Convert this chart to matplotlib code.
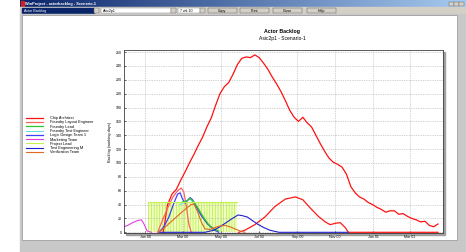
import numpy as np
import matplotlib
matplotlib.use('agg')
import matplotlib.pyplot as plt
from matplotlib.patches import Rectangle

plt.rcParams['font.family'] = ['Liberation Sans', 'DejaVu Sans']
plt.rcParams['hatch.linewidth'] = 0.5

# data: days after 2000-01-01 and backlog in working days
base = np.datetime64('2000-01-01')

chip_days = [29, 36, 43, 50, 57, 64, 71, 78, 85, 92, 99, 106, 113, 120, 127, 134,
             141, 148, 155, 162, 169, 176, 183, 190, 197, 204, 211, 218, 225, 232,
             239, 246, 253, 260, 267, 274, 281, 288, 295, 302, 309, 316, 323, 330,
             337, 344, 351, 358, 365, 372, 379, 386, 393, 400, 407, 414, 421, 428,
             435, 442, 449, 456, 463, 470]
chip_vals = [0, 40, 55, 62, 75, 87, 100, 112, 125, 137,
             152, 165, 183, 200, 210, 216, 228, 242, 251, 253,
             252, 256, 252, 244, 235, 224, 214, 203, 190, 176,
             166, 160, 166, 158, 152, 140, 128, 117, 107, 101,
             98, 94, 84, 66, 57, 51, 48, 43, 40, 36,
             33, 29, 31, 31, 26, 27, 23, 20, 18, 15,
             16, 10, 8, 12]

layout_days = [20, 28, 36, 44, 52, 58, 62, 66, 70, 74]
layout_vals = [0, 18, 35, 50, 60, 64, 58, 38, 12, 0]

lead_days = [60, 66, 72, 78, 86, 94, 102, 110, 118]
lead_vals = [44, 45, 49, 44, 33, 21, 11, 5, 2]

ftest_days = [56, 64, 72, 80, 90]
ftest_vals = [40, 44, 48, 40, 25]

logic_days = [22, 30, 38, 46, 52, 56, 60, 64, 68, 72, 76, 82, 90, 100, 110, 118]
logic_vals = [0, 8, 22, 42, 55, 57, 48, 42, 46, 50, 47, 37, 24, 12, 4, 0]

mkt_days = [-34, -28, -20, -12, -6, -2, 3, 10]
mkt_vals = [8, 10, 14, 17, 18, 12, 2, 0]

plead_days = [5, 148]
plead_level = 44

teng_days = [22, 96, 110, 120, 130, 140, 149, 156, 164, 172, 180, 190, 200, 215, 326]
teng_vals = [0, 0, 3, 8, 14, 20, 25, 24, 22, 17, 12, 7, 3, 0, 0]

verif_days = [22, 30, 40, 50, 60, 68, 74, 78, 84, 90, 96, 104, 112, 120, 128, 136, 144, 152, 160]
verif_vals = [0, 6, 14, 22, 30, 36, 40, 41, 30, 15, 5, 4, 7, 9, 10, 8, 5, 2, 0]

hump_days = [150, 160, 176, 192, 208, 225, 241, 253, 265, 278, 289, 297, 305, 313, 321, 326, 470]
hump_vals = [0, 3, 11, 22, 37, 48, 51, 47, 35, 23, 15, 11, 13, 14, 7, 0, 0]

tick_days = [0, 60, 121, 182, 244, 305, 366, 425]
tick_labels = ['Jan 00', 'Mar 00', 'May 00', 'Jul 00', 'Sep 00', 'Nov 00', 'Jan 01', 'Mar 01']


def d(days):
    return base + np.array(days).astype('timedelta64[D]')


fig = plt.figure(figsize=(4.66, 2.52), dpi=100)

# window chrome drawn in pixel coords
bg = fig.add_axes([0, 0, 1, 1])
bg.set_xlim(0, 466)
bg.set_ylim(252, 0)
bg.axis('off')
grad = np.linspace(0, 1, 200).reshape(1, -1)
bg.imshow(grad, extent=(20, 466, 7, 0), aspect='auto',
          cmap=matplotlib.colors.LinearSegmentedColormap.from_list('t', ['#0a246a', '#a6caf0']))
bg.add_patch(Rectangle((20.5, 1), 3, 5, color='#d02020'))
bg.text(25, 3.6, 'WinProject - actorbacklog - Scenario-1', color='white', fontsize=2.8,
        va='center', fontweight='bold')
for x in (449, 454, 459):
    bg.add_patch(Rectangle((x, 1.5), 4.5, 4, facecolor='#d4d0c8', edgecolor='#606060', lw=0.3))
bg.add_patch(Rectangle((20, 7), 446, 7, color='#d4d0c8'))
bg.add_patch(Rectangle((22, 7.8), 72, 5.4, color='#0a246a'))
bg.text(24, 10.6, 'Actor Backlog', color='white', fontsize=2.6, va='center')
bg.add_patch(Rectangle((101, 7.8), 70, 5.4, facecolor='white', edgecolor='#808080', lw=0.3))
bg.text(103, 10.6, 'Asic2p1', color='black', fontsize=2.6, va='center')
bg.add_patch(Rectangle((178, 7.8), 22, 5.4, facecolor='white', edgecolor='#808080', lw=0.3))
bg.text(180, 10.6, '7 wk 10', color='black', fontsize=2.6, va='center')
for x in (94, 171, 200):
    bg.add_patch(Rectangle((x, 7.8), 5, 5.4, facecolor='#d4d0c8', edgecolor='#606060', lw=0.3))
for x, lab in zip((208, 240, 273, 307), ('Copy', 'Print', 'Close', 'Help')):
    bg.add_patch(Rectangle((x, 7.8), 29, 5.4, facecolor='#d4d0c8', edgecolor='#505050', lw=0.3))
    bg.text(x + 14.5, 10.6, lab, color='black', fontsize=2.6, va='center', ha='center')
bg.add_patch(Rectangle((20, 14), 446, 238, color='#c8c8c8'))
bg.add_patch(Rectangle((22, 15), 435, 225, facecolor='white', edgecolor='#909090', lw=0.5))
bg.add_patch(Rectangle((125.5, 51.5), 319, 183, color='#a0a0a0'))

fig.text(282 / 466, 1 - 32 / 252, 'Actor Backlog', ha='center', va='center',
         fontsize=3.8, fontweight='bold')
fig.text(282 / 466, 1 - 38.5 / 252, 'Asic2p1 - Scenario-1', ha='center', va='center',
         fontsize=3.6)

ax = fig.add_axes([124 / 466, 1 - 233 / 252, 319 / 466, 183 / 252])
ax.fill_between(d(plead_days), 0, plead_level, facecolor='#eeffc0', edgecolor='#b8ec40',
                hatch='||||||', lw=0)
l1, = ax.plot(d(chip_days), chip_vals, color='#ff1010', lw=0.9, label='Chip Architect')
ax.plot(d(hump_days), hump_vals, color='#ff1818', lw=0.9)
l2, = ax.plot(d(layout_days), layout_vals, color='#ff6060', lw=0.9, label='Foundry Layout Engineer')
l4, = ax.plot(d(ftest_days), ftest_vals, color='#60e0e0', lw=0.7, label='Foundry Test Engineer')
l5, = ax.plot(d(logic_days), logic_vals, color='#4040ff', lw=0.9, label='Logic Design Team 1')
l3, = ax.plot(d(lead_days), lead_vals, color='#30c030', lw=0.9, label='Foundry Lead')
l6, = ax.plot(d(mkt_days), mkt_vals, color='#e040e0', lw=0.8, label='Marketing Team')
l7, = ax.plot(d(plead_days), [plead_level] * 2, color='#c4f050', lw=0.8, label='Project Lead')
l8, = ax.plot(d(teng_days), teng_vals, color='#2020d0', lw=0.8, label='Test Engineering M')
l9, = ax.plot(d(verif_days), verif_vals, color='#e06a20', lw=0.8, label='Verification Team')

ax.set_xlim(np.datetime64('1999-11-28'), np.datetime64('2001-04-23'))
ax.set_ylim(-1, 263)
ax.set_xticks(d(tick_days))
ax.set_xticklabels(tick_labels)
ax.set_yticks(range(0, 261, 20))
ax.tick_params(labelsize=2.6, length=1.2, width=0.4, pad=1.5, direction='in')
ax.grid(True, color='#a8a8a8', ls=(0, (1, 1.5)), lw=0.5)
for s in ax.spines.values():
    s.set_color('#404040')
    s.set_linewidth(0.6)
ax.set_ylabel('Backlog (working days)', fontsize=2.8, labelpad=3)

fig.legend(handles=[l1, l2, l3, l4, l5, l6, l7, l8, l9], loc='upper left',
           bbox_to_anchor=(24 / 466, 1 - 114 / 252), frameon=False, fontsize=2.8,
           handlelength=4.5, handletextpad=1.6, labelspacing=0.08, borderpad=0)

fig.savefig('out.png', dpi=100)
